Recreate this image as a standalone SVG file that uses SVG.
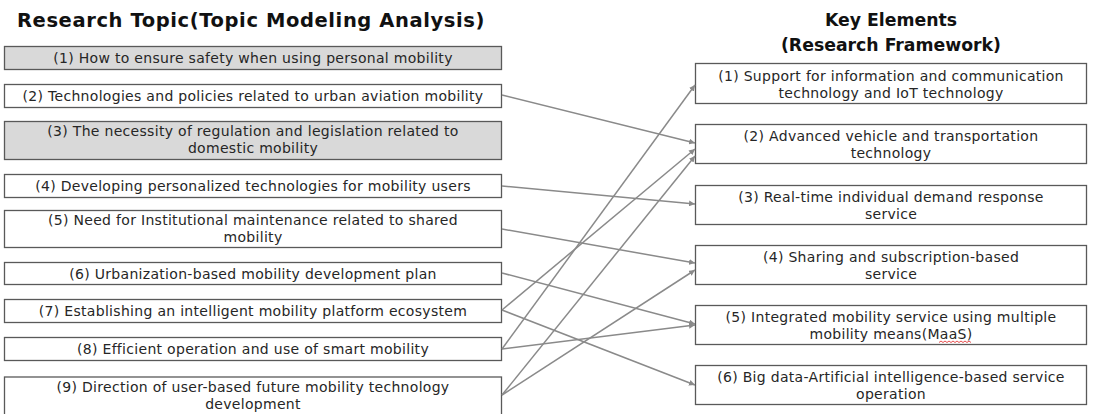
<svg xmlns="http://www.w3.org/2000/svg" width="1093" height="414" viewBox="0 0 1093 414">
<defs>
<style>
.bg{fill:#ffffff}
.box{fill:#ffffff;stroke:#595959;stroke-width:1.3}
.gray{fill:#d9d9d9}
.t{font-family:"DejaVu Sans","Noto Sans CJK KR",sans-serif;font-size:14px;letter-spacing:0.3px;fill:#262626;text-anchor:middle}
.h{font-family:"DejaVu Sans","Noto Sans CJK KR",sans-serif;font-weight:bold;fill:#111111;text-anchor:middle}
.hl{font-size:19.5px;letter-spacing:0.6px}
.hr{font-size:17.3px}
.c{stroke:#8a8a8a;stroke-width:1.5;fill:none;marker-end:url(#ah)}
</style>
<marker id="ah" viewBox="0 0 10 10" refX="10" refY="5" markerWidth="6" markerHeight="6" markerUnits="userSpaceOnUse" orient="auto">
<path d="M0,0 L10,5 L0,10 z" fill="#8a8a8a"/>
</marker>
</defs>
<rect class="bg" x="0" y="0" width="1093" height="414"/>

<g id="title-left"><text class="h hl" x="251" y="27">Research Topic(Topic Modeling Analysis)</text></g>
<g id="title-right"><text class="h hr" x="891" y="26">Key Elements</text><text class="h hr" x="891" y="51">(Research Framework)</text></g>

<g id="topic-1"><rect class="box gray" x="4.5" y="46.5" width="497" height="23"/><text class="t" x="253" y="63">(1) How to ensure safety when using personal mobility</text></g>
<g id="topic-2"><rect class="box" x="4.5" y="84.5" width="497" height="23"/><text class="t" x="253" y="101">(2) Technologies and policies related to urban aviation mobility</text></g>
<g id="topic-3"><rect class="box gray" x="4.5" y="121.5" width="497" height="38"/><text class="t" x="253" y="136">(3) The necessity of regulation and legislation related to</text><text class="t" x="253" y="153">domestic mobility</text></g>
<g id="topic-4"><rect class="box" x="4.5" y="174.5" width="497" height="23"/><text class="t" x="253" y="191">(4) Developing personalized technologies for mobility users</text></g>
<g id="topic-5"><rect class="box" x="4.5" y="210.5" width="497" height="37"/><text class="t" x="253" y="225">(5) Need for Institutional maintenance related to shared</text><text class="t" x="253" y="242">mobility</text></g>
<g id="topic-6"><rect class="box" x="4.5" y="262.5" width="497" height="22"/><text class="t" x="253" y="278.5">(6) Urbanization-based mobility development plan</text></g>
<g id="topic-7"><rect class="box" x="4.5" y="299.5" width="497" height="23"/><text class="t" x="253" y="316">(7) Establishing an intelligent mobility platform ecosystem</text></g>
<g id="topic-8"><rect class="box" x="4.5" y="337.5" width="497" height="23"/><text class="t" x="253" y="354">(8) Efficient operation and use of smart mobility</text></g>
<g id="topic-9"><rect class="box" x="4.5" y="377" width="497" height="38"/><text class="t" x="253" y="392">(9) Direction of user-based future mobility technology</text><text class="t" x="253" y="409">development</text></g>

<g id="element-1"><rect class="box" x="695.5" y="63.5" width="391" height="40"/><text class="t" x="891" y="80.5">(1) Support for information and communication</text><text class="t" x="891" y="97.5">technology and IoT technology</text></g>
<g id="element-2"><rect class="box" x="695.5" y="124.5" width="391" height="39"/><text class="t" x="891" y="141">(2) Advanced vehicle and transportation</text><text class="t" x="891" y="158">technology</text></g>
<g id="element-3"><rect class="box" x="695.5" y="185.5" width="391" height="39"/><text class="t" x="891" y="202">(3) Real-time individual demand response</text><text class="t" x="891" y="219">service</text></g>
<g id="element-4"><rect class="box" x="695.5" y="245.5" width="391" height="39"/><text class="t" x="891" y="262">(4) Sharing and subscription-based</text><text class="t" x="891" y="279">service</text></g>
<g id="element-5"><rect class="box" x="695.5" y="305.5" width="391" height="39"/><text class="t" x="891" y="322">(5) Integrated mobility service using multiple</text><text class="t" x="891" y="339">mobility means(MaaS)</text><path d="M939,342.5 l2,-1.5 l2,1.5 l2,-1.5 l2,1.5 l2,-1.5 l2,1.5 l2,-1.5 l2,1.5 l2,-1.5 l2,1.5 l2,-1.5 l2,1.5 l2,-1.5 l2,1.5 l2,-1.5 l2,1.5" fill="none" stroke="#e02020" stroke-width="0.8"/></g>
<g id="element-6"><rect class="box" x="695.5" y="365.5" width="391" height="39"/><text class="t" x="891" y="382">(6) Big data-Artificial intelligence-based service</text><text class="t" x="891" y="399">operation</text></g>

<g id="connectors">
<line class="c" x1="502" y1="95" x2="695" y2="143"/>
<line class="c" x1="502" y1="186" x2="695" y2="204"/>
<line class="c" x1="502" y1="229" x2="695" y2="263"/>
<line class="c" x1="502" y1="273" x2="695" y2="324"/>
<line class="c" x1="502" y1="310" x2="695" y2="149"/>
<line class="c" x1="502" y1="310" x2="695" y2="385"/>
<line class="c" x1="502" y1="349" x2="695" y2="85"/>
<line class="c" x1="502" y1="349" x2="695" y2="325"/>
<line class="c" x1="502" y1="395" x2="695" y2="156"/>
<line class="c" x1="502" y1="395" x2="695" y2="270"/>
</g>
</svg>
